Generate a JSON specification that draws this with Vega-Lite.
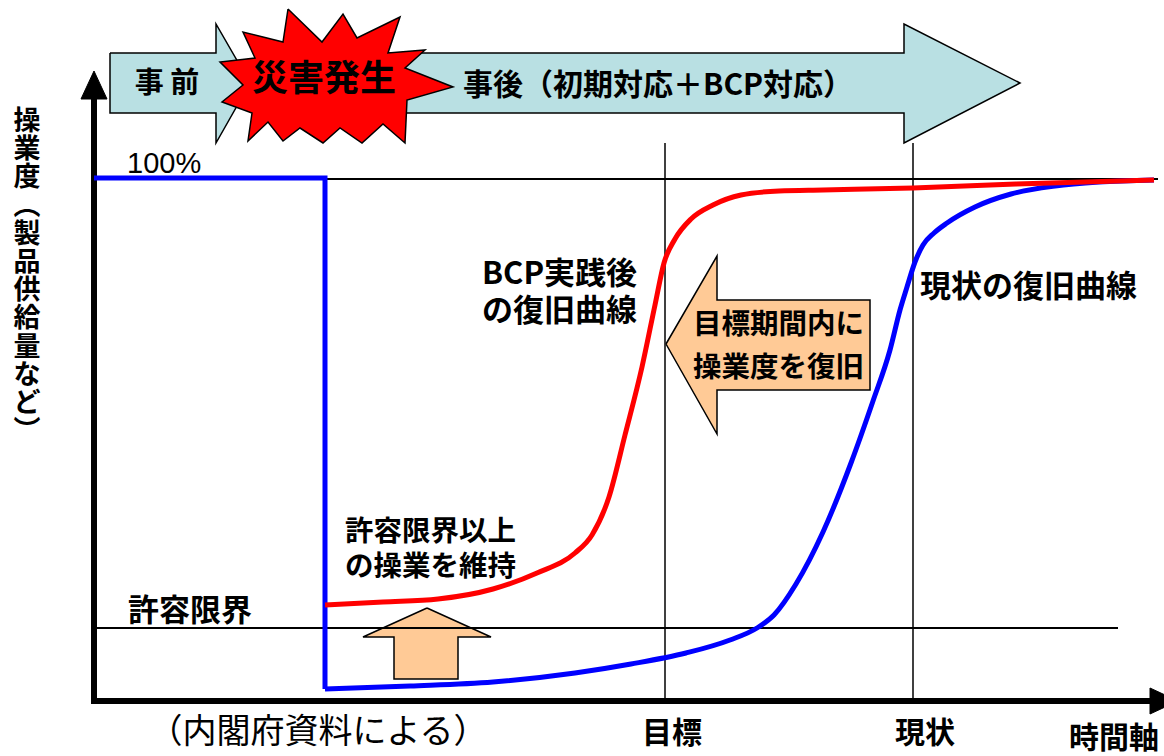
{
  "$schema": "https://vega.github.io/schema/vega-lite/v6.json",
  "width": 1164,
  "height": 756,
  "padding": 0,
  "autosize": {"type": "none"},
  "background": "white",
  "config": {"view": {"stroke": null}, "text": {"font": "Noto Sans CJK JP"}},
  "datasets": {
    "bigArrow": [
      {"i": 0, "x": 300, "y": 53}, {"i": 1, "x": 904, "y": 53}, {"i": 2, "x": 904, "y": 24},
      {"i": 3, "x": 1020, "y": 83}, {"i": 4, "x": 904, "y": 143}, {"i": 5, "x": 904, "y": 113},
      {"i": 6, "x": 300, "y": 113}, {"i": 7, "x": 300, "y": 53}
    ],
    "smallArrow": [
      {"i": 0, "x": 110, "y": 53}, {"i": 1, "x": 216, "y": 53}, {"i": 2, "x": 216, "y": 24},
      {"i": 3, "x": 250, "y": 83}, {"i": 4, "x": 216, "y": 143}, {"i": 5, "x": 216, "y": 113},
      {"i": 6, "x": 110, "y": 113}, {"i": 7, "x": 110, "y": 53}
    ],
    "star": [
      {"i": 0, "x": 288, "y": 9}, {"i": 1, "x": 322, "y": 42}, {"i": 2, "x": 343, "y": 14},
      {"i": 3, "x": 357, "y": 38}, {"i": 4, "x": 400, "y": 17}, {"i": 5, "x": 388, "y": 53},
      {"i": 6, "x": 425, "y": 50}, {"i": 7, "x": 405, "y": 68}, {"i": 8, "x": 453, "y": 87},
      {"i": 9, "x": 407, "y": 100}, {"i": 10, "x": 405, "y": 143}, {"i": 11, "x": 383, "y": 124},
      {"i": 12, "x": 362, "y": 143}, {"i": 13, "x": 340, "y": 128}, {"i": 14, "x": 323, "y": 143},
      {"i": 15, "x": 300, "y": 128}, {"i": 16, "x": 283, "y": 141}, {"i": 17, "x": 268, "y": 122},
      {"i": 18, "x": 248, "y": 141}, {"i": 19, "x": 252, "y": 113}, {"i": 20, "x": 222, "y": 102},
      {"i": 21, "x": 243, "y": 85}, {"i": 22, "x": 220, "y": 62}, {"i": 23, "x": 255, "y": 58},
      {"i": 24, "x": 243, "y": 32}, {"i": 25, "x": 283, "y": 42}, {"i": 26, "x": 288, "y": 9}
    ],
    "leftArrow": [
      {"i": 0, "x": 666, "y": 344}, {"i": 1, "x": 717, "y": 256}, {"i": 2, "x": 717, "y": 300},
      {"i": 3, "x": 870, "y": 300}, {"i": 4, "x": 870, "y": 390}, {"i": 5, "x": 717, "y": 390},
      {"i": 6, "x": 717, "y": 434}, {"i": 7, "x": 666, "y": 344}
    ],
    "upArrow": [
      {"i": 0, "x": 427, "y": 608}, {"i": 1, "x": 491, "y": 637}, {"i": 2, "x": 458, "y": 637},
      {"i": 3, "x": 458, "y": 679}, {"i": 4, "x": 394, "y": 679}, {"i": 5, "x": 394, "y": 637},
      {"i": 6, "x": 363, "y": 637}, {"i": 7, "x": 427, "y": 608}
    ],
    "heads": [
      {"k": "y", "i": 0, "x": 81, "y": 99}, {"k": "y", "i": 1, "x": 94, "y": 71}, {"k": "y", "i": 2, "x": 107, "y": 99}, {"k": "y", "i": 3, "x": 81, "y": 99},
      {"k": "x", "i": 0, "x": 1150, "y": 688}, {"k": "x", "i": 1, "x": 1178, "y": 701}, {"k": "x", "i": 2, "x": 1150, "y": 714}, {"k": "x", "i": 3, "x": 1150, "y": 688}
    ],
    "thinLines": [
      {"x": 93, "y": 179, "x2": 1158, "y2": 179},
      {"x": 93, "y": 628, "x2": 1118, "y2": 628}
    ],
    "vLines": [
      {"x": 665, "y": 143, "x2": 665, "y2": 701},
      {"x": 913, "y": 143, "x2": 913, "y2": 701}
    ],
    "axes": [
      {"x": 94, "y": 704, "x2": 94, "y2": 97},
      {"x": 91, "y": 701, "x2": 1152, "y2": 701}
    ],
    "blueStep": [
      {"i": 0, "x": 94, "y": 178}, {"i": 1, "x": 325, "y": 178}, {"i": 2, "x": 325, "y": 689}
    ],
    "blueCurve": [
      {"x": 325, "y": 689}, {"x": 410, "y": 686}, {"x": 493, "y": 682}, {"x": 575, "y": 673},
      {"x": 631, "y": 664}, {"x": 686, "y": 653}, {"x": 730, "y": 640}, {"x": 757, "y": 628},
      {"x": 774, "y": 615}, {"x": 796, "y": 584}, {"x": 823, "y": 532}, {"x": 851, "y": 463},
      {"x": 873, "y": 401}, {"x": 890, "y": 350}, {"x": 900, "y": 310}, {"x": 907, "y": 287},
      {"x": 915, "y": 262}, {"x": 923, "y": 245}, {"x": 934, "y": 233}, {"x": 947, "y": 223},
      {"x": 975, "y": 207}, {"x": 1011, "y": 194}, {"x": 1055, "y": 186}, {"x": 1099, "y": 182},
      {"x": 1154, "y": 180}
    ],
    "redCurve": [
      {"x": 325, "y": 605}, {"x": 383, "y": 602}, {"x": 438, "y": 599}, {"x": 493, "y": 589},
      {"x": 537, "y": 573}, {"x": 575, "y": 553}, {"x": 592, "y": 535}, {"x": 609, "y": 497},
      {"x": 625, "y": 435}, {"x": 642, "y": 367}, {"x": 655, "y": 305}, {"x": 664, "y": 263},
      {"x": 675, "y": 239}, {"x": 691, "y": 219}, {"x": 713, "y": 205}, {"x": 741, "y": 195},
      {"x": 779, "y": 191}, {"x": 823, "y": 190}, {"x": 913, "y": 188}, {"x": 1016, "y": 184},
      {"x": 1154, "y": 180}
    ],
    "yTitle": [
      {"label": "操", "x": 27, "y": 122}, {"label": "業", "x": 27, "y": 150},
      {"label": "度", "x": 27, "y": 178}, {"label": "︵", "x": 27, "y": 207},
      {"label": "製", "x": 27, "y": 235}, {"label": "品", "x": 27, "y": 263},
      {"label": "供", "x": 27, "y": 291}, {"label": "給", "x": 27, "y": 319},
      {"label": "量", "x": 27, "y": 348}, {"label": "な", "x": 27, "y": 376},
      {"label": "ど", "x": 27, "y": 404}, {"label": "︶", "x": 27, "y": 432}
    ]
  },
  "encoding": {
    "x": {"field": "x", "type": "quantitative", "scale": {"domain": [0, 1164], "nice": false, "zero": false}, "axis": null},
    "y": {"field": "y", "type": "quantitative", "scale": {"domain": [0, 756], "nice": false, "zero": false, "reverse": true}, "axis": null}
  },
  "layer": [
    {
      "data": {"name": "bigArrow"},
      "mark": {"type": "line", "fill": "#b9e0e3", "stroke": "#000000", "strokeWidth": 1.5, "strokeJoin": "miter"},
      "encoding": {"order": {"field": "i", "type": "quantitative"}}
    },
    {
      "data": {"name": "smallArrow"},
      "mark": {"type": "line", "fill": "#b9e0e3", "stroke": "#000000", "strokeWidth": 1.5, "strokeJoin": "miter"},
      "encoding": {"order": {"field": "i", "type": "quantitative"}}
    },
    {
      "data": {"name": "star"},
      "mark": {"type": "line", "fill": "#ff0000", "stroke": "#000000", "strokeWidth": 1.5, "strokeJoin": "miter"},
      "encoding": {"order": {"field": "i", "type": "quantitative"}}
    },
    {
      "data": {"name": "leftArrow"},
      "mark": {"type": "line", "fill": "#ffca96", "stroke": "#000000", "strokeWidth": 1.5, "strokeJoin": "miter"},
      "encoding": {"order": {"field": "i", "type": "quantitative"}}
    },
    {
      "data": {"name": "upArrow"},
      "mark": {"type": "line", "fill": "#ffca96", "stroke": "#000000", "strokeWidth": 1.5, "strokeJoin": "miter"},
      "encoding": {"order": {"field": "i", "type": "quantitative"}}
    },
    {
      "data": {"name": "thinLines"},
      "mark": {"type": "rule", "stroke": "#000000", "strokeWidth": 2},
      "encoding": {"x2": {"field": "x2"}, "y2": {"field": "y2"}}
    },
    {
      "data": {"name": "vLines"},
      "mark": {"type": "rule", "stroke": "#000000", "strokeWidth": 1.5},
      "encoding": {"x2": {"field": "x2"}, "y2": {"field": "y2"}}
    },
    {
      "data": {"name": "axes"},
      "mark": {"type": "rule", "stroke": "#000000", "strokeWidth": 6},
      "encoding": {"x2": {"field": "x2"}, "y2": {"field": "y2"}}
    },
    {
      "data": {"name": "heads"},
      "mark": {"type": "line", "fill": "#000000", "stroke": "#000000", "strokeWidth": 1},
      "encoding": {"detail": {"field": "k"}, "order": {"field": "i", "type": "quantitative"}}
    },
    {
      "data": {"name": "blueStep"},
      "mark": {"type": "line", "stroke": "#0000ff", "strokeWidth": 5, "strokeJoin": "miter"},
      "encoding": {"order": {"field": "i", "type": "quantitative"}}
    },
    {
      "data": {"name": "blueCurve"},
      "mark": {"type": "line", "stroke": "#0000ff", "strokeWidth": 5, "interpolate": "monotone"},
      "encoding": {}
    },
    {
      "data": {"name": "redCurve"},
      "mark": {"type": "line", "stroke": "#ff0000", "strokeWidth": 5, "interpolate": "monotone"},
      "encoding": {}
    },
    {
      "data": {"values": [{"label": "事後（初期対応＋BCP対応）", "x": 463, "y": 86}]},
      "mark": {"type": "text", "align": "left", "baseline": "middle", "fontSize": 30, "fontWeight": "bold", "fill": "#000000"},
      "encoding": {"text": {"field": "label"}}
    },
    {
      "data": {"values": [{"label": "事 前", "x": 167, "y": 84}]},
      "mark": {"type": "text", "align": "center", "baseline": "middle", "fontSize": 29, "fontWeight": "bold", "fill": "#000000"},
      "encoding": {"text": {"field": "label"}}
    },
    {
      "data": {"values": [{"label": "災害発生", "x": 324, "y": 80}]},
      "mark": {"type": "text", "align": "center", "baseline": "middle", "fontSize": 36, "fontWeight": "bold", "fill": "#000000"},
      "encoding": {"text": {"field": "label"}}
    },
    {
      "data": {"values": [
        {"label": "BCP実践後", "x": 482, "y": 275},
        {"label": "の復旧曲線", "x": 482, "y": 312},
        {"label": "現状の復旧曲線", "x": 920, "y": 288},
        {"label": "許容限界", "x": 128, "y": 612}
      ]},
      "mark": {"type": "text", "align": "left", "baseline": "middle", "fontSize": 31, "fontWeight": "bold", "fill": "#000000"},
      "encoding": {"text": {"field": "label"}}
    },
    {
      "data": {"values": [
        {"label": "目標期間内に", "x": 693, "y": 325},
        {"label": "操業度を復旧", "x": 693, "y": 368},
        {"label": "許容限界以上", "x": 345, "y": 532},
        {"label": "の操業を維持", "x": 345, "y": 567}
      ]},
      "mark": {"type": "text", "align": "left", "baseline": "middle", "fontSize": 28.5, "fontWeight": "bold", "fill": "#000000"},
      "encoding": {"text": {"field": "label"}}
    },
    {
      "data": {"values": [
        {"label": "目標", "x": 672, "y": 734},
        {"label": "現状", "x": 925, "y": 734},
        {"label": "時間軸", "x": 1114, "y": 739}
      ]},
      "mark": {"type": "text", "align": "center", "baseline": "middle", "fontSize": 30, "fontWeight": "bold", "fill": "#000000"},
      "encoding": {"text": {"field": "label"}}
    },
    {
      "data": {"values": [{"label": "100%", "x": 127, "y": 164}]},
      "mark": {"type": "text", "align": "left", "baseline": "middle", "font": "Liberation Sans", "fontSize": 29, "fill": "#000000"},
      "encoding": {"text": {"field": "label"}}
    },
    {
      "data": {"values": [{"label": "（内閣府資料による）", "x": 318, "y": 733}]},
      "mark": {"type": "text", "align": "center", "baseline": "middle", "fontSize": 34, "fill": "#000000"},
      "encoding": {"text": {"field": "label"}}
    },
    {
      "data": {"name": "yTitle"},
      "mark": {"type": "text", "align": "center", "baseline": "middle", "fontSize": 27, "fontWeight": "bold", "fill": "#000000"},
      "encoding": {"text": {"field": "label"}}
    }
  ]
}
